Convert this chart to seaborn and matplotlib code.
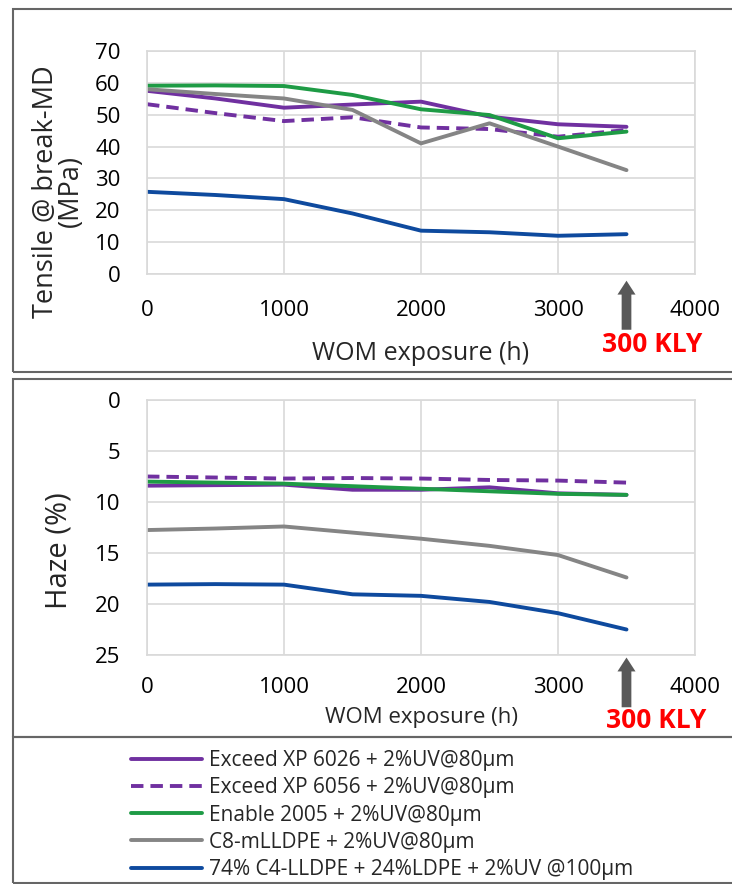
import pandas as pd
import matplotlib.pyplot as plt
import seaborn as sns
from matplotlib.patches import Rectangle
from matplotlib.lines import Line2D

# WOM exposure hours
hours = [0, 500, 1000, 1500, 2000, 2500, 3000, 3500]

series_names = [
    "Exceed XP 6026 + 2%UV@80μm",
    "Exceed XP 6056 + 2%UV@80μm",
    "Enable 2005 + 2%UV@80μm",
    "C8-mLLDPE + 2%UV@80μm",
    "74% C4-LLDPE + 24%LDPE + 2%UV @100μm",
]
colors = ["#7030A0", "#7030A0", "#1E9B45", "#858585", "#0E4A9E"]
dashed = [False, True, False, False, False]

# Tensile @ break-MD (MPa)
tensile_6026 = [57.5, 55.1, 52.2, 53.2, 54.1, 49.4, 47.0, 46.2]
tensile_6056 = [53.3, 50.5, 48.0, 49.2, 46.0, 45.5, 43.1, 45.2]
tensile_enable = [59.1, 59.2, 59.0, 56.2, 51.7, 49.9, 42.6, 44.7]
tensile_c8 = [58.0, 56.5, 55.1, 51.5, 41.0, 47.3, 40.0, 32.6]
tensile_c4 = [25.8, 24.8, 23.5, 19.0, 13.6, 13.1, 12.0, 12.5]

# Haze (%)
haze_6026 = [8.4, 8.35, 8.3, 8.8, 8.8, 8.56, 9.15, 9.3]
haze_6056 = [7.5, 7.6, 7.7, 7.65, 7.7, 7.84, 7.9, 8.1]
haze_enable = [8.0, 8.1, 8.2, 8.45, 8.7, 8.95, 9.2, 9.3]
haze_c8 = [12.75, 12.6, 12.4, 13.0, 13.6, 14.3, 15.2, 17.4]
haze_c4 = [18.1, 18.05, 18.1, 19.05, 19.2, 19.8, 20.9, 22.5]

tensile = [tensile_6026, tensile_6056, tensile_enable, tensile_c8, tensile_c4]
haze = [haze_6026, haze_6056, haze_enable, haze_c8, haze_c4]

sns.set_style("whitegrid")
plt.rcParams['font.family'] = ['Open Sans', 'DejaVu Sans']

fig = plt.figure(figsize=(7.32, 8.84), dpi=100)
W, H = 732, 884

def fig_rect(x0, y0, x1, y1):
    return [x0 / W, 1 - y1 / H, (x1 - x0) / W, (y1 - y0) / H]

ax1 = fig.add_axes(fig_rect(147, 51, 695, 274))
ax2 = fig.add_axes(fig_rect(147, 400, 695, 655))

def draw(ax, data):
    for name, vals, c, d in zip(series_names, data, colors, dashed):
        df = pd.DataFrame({"h": hours, "v": vals})
        sns.lineplot(data=df, x="h", y="v", ax=ax, color=c, lw=2.8,
                     linestyle="--" if d else "-", label=name, legend=False)
        if d:
            ax.lines[-1].set_dashes((3.2, 1.8))
        ax.lines[-1].set_solid_joinstyle("round")
    ax.set_xlim(0, 4000)
    ax.set_xticks([0, 1000, 2000, 3000, 4000])
    ax.grid(color="#D9D9D9", lw=1.2)
    for s in ax.spines.values():
        s.set_color("#D9D9D9")
        s.set_linewidth(1.2)
    ax.tick_params(labelsize=16, colors="#000000", length=0)

draw(ax1, tensile)
ax1.set_ylim(0, 70)
ax1.set_yticks(range(0, 71, 10))
ax1.tick_params(axis="x", pad=19)
ax1.tick_params(axis="y", pad=19)
ax1.set_xlabel("WOM exposure (h)", fontsize=18)
ax1.xaxis.set_label_coords(0.5, -0.30)
ax1.set_ylabel("Tensile @ break-MD\n(MPa)", fontsize=19.5, linespacing=0.85)
ax1.yaxis.set_label_coords(-0.113, 0.37)

draw(ax2, haze)
ax2.set_ylim(25, 0)
ax2.set_yticks(range(0, 26, 5))
ax2.tick_params(axis="x", pad=16)
ax2.tick_params(axis="y", pad=19)
ax2.set_xlabel("WOM exposure (h)", fontsize=16)
ax2.xaxis.set_label_coords(0.5, -0.205)
ax2.set_ylabel("Haze (%)", fontsize=21)
ax2.yaxis.set_label_coords(-0.135, 0.41)

# 300 KLY markers
for ax, tip, base, ty, tx in [(ax1, -0.03, -0.25, -0.318, 3690),
                              (ax2, -0.01, -0.205, -0.255, 3720)]:
    tr = ax.get_xaxis_transform()
    ax.annotate("", xy=(3500, tip), xytext=(3500, base), xycoords=tr, textcoords=tr,
                arrowprops=dict(arrowstyle="simple,head_width=1.3,head_length=1.0,tail_width=0.7",
                                color="#595959", lw=0, shrinkA=0, shrinkB=0),
                annotation_clip=False)
    ax.text(tx, ty, "300 KLY", transform=tr, color="#FF0000", fontsize=19,
            fontweight="bold", ha="center", va="center", clip_on=False)

# panel boxes
for (x0, y0, x1, y1) in [(13, 9, 740, 372), (13, 379, 740, 737), (13, 737, 740, 883)]:
    fig.patches.append(Rectangle((x0 / W, 1 - y1 / H), (x1 - x0) / W, (y1 - y0) / H,
                                 transform=fig.transFigure, fill=False,
                                 edgecolor="#666666", lw=1.5))

handles = []
for c, d in zip(colors, dashed):
    h = Line2D([], [], color=c, lw=2.8)
    if d:
        h.set_dashes((3.2, 1.8))
    handles.append(h)
fig.legend(handles, series_names, loc="upper left", bbox_to_anchor=(131 / W, 1 - 750 / H),
           frameon=False, fontsize=15, handlelength=3.4, handletextpad=0.33,
           labelspacing=0.3, borderpad=0, borderaxespad=0)

fig.savefig("out.png", dpi=100)
